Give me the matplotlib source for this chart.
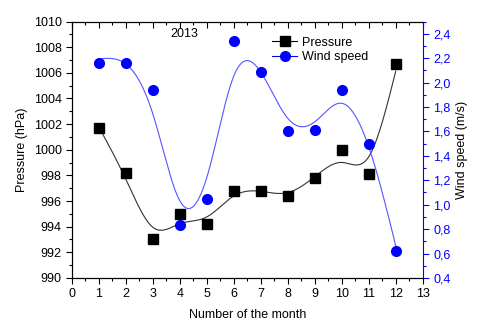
"""Monthly pressure and wind speed for 2013, with smoothed trend curves."""

import matplotlib
matplotlib.use("Agg")
import matplotlib.pyplot as plt
import numpy as np
from matplotlib.ticker import MultipleLocator, FuncFormatter

plt.rcParams["font.family"] = ["Liberation Sans", "DejaVu Sans"]
plt.rcParams["font.size"] = 9

months = [1, 2, 3, 4, 5, 6, 7, 8, 9, 10, 11, 12]
pressure = [1001.7, 998.2, 993.0, 995.0, 994.2, 996.8, 996.8, 996.4, 997.8, 1000.0, 998.1, 1006.7]
wind_speed = [2.16, 2.16, 1.94, 0.83, 1.05, 2.34, 2.09, 1.60, 1.61, 1.94, 1.50, 0.62]

BLUE = "#0000ff"
CURVE_BLUE = "#5555ff"


def smooth_curve(x, y, lam, step=0.02):
    # Whittaker smoother on a fine grid: data nodes weighted, second-difference penalty
    grid = np.arange(min(x), max(x) + step / 2, step)
    n = len(grid)
    w = np.zeros(n)
    z = np.zeros(n)
    for xi, yi in zip(x, y):
        k = int(round((xi - grid[0]) / step))
        w[k] = 1.0
        z[k] = yi
    d = np.diff(np.eye(n), 2, axis=0)
    f = np.linalg.solve(np.diag(w) + lam * d.T @ d, w * z)
    return grid, f


fig = plt.figure(figsize=(4.8, 3.27), dpi=100)
ax = fig.add_axes([0.15, 0.15, 0.7306, 0.784])
ax2 = ax.twinx()

xs, ps = smooth_curve(months, pressure, 7.0e3)
ax.plot(xs, ps, color="#333333", lw=0.8)
ln1, = ax.plot(months, pressure, "s", color="black", ms=6.5, label="Pressure")

xw, ws = smooth_curve(months, wind_speed, 1.1e4)
ax2.plot(xw, ws, color=CURVE_BLUE, lw=0.8)
ln2, = ax2.plot(months, wind_speed, "o", color=BLUE, ms=7, label="Wind speed")

ax.set_xlim(0, 13)
ax.set_ylim(990, 1010)
ax2.set_ylim(0.4, 2.5)

ax.xaxis.set_major_locator(MultipleLocator(1))
ax.xaxis.set_minor_locator(MultipleLocator(0.5))
ax.yaxis.set_major_locator(MultipleLocator(2))
ax.yaxis.set_minor_locator(MultipleLocator(1))
ax2.yaxis.set_major_locator(MultipleLocator(0.2))
ax2.yaxis.set_minor_locator(MultipleLocator(0.1))
ax2.yaxis.set_major_formatter(FuncFormatter(lambda v, _: f"{v:.1f}".replace(".", ",")))

ax.tick_params(axis="x", which="both", direction="out", top=True)
ax.tick_params(axis="y", which="both", direction="out")
ax.tick_params(which="major", length=4, width=0.8)
ax.tick_params(which="minor", length=2, width=0.8)
ax2.tick_params(axis="y", which="both", direction="out", colors=BLUE, width=0.8)
ax2.tick_params(axis="y", which="major", length=4)
ax2.tick_params(axis="y", which="minor", length=2)

# top ticks point into the frame, bottom ones point out
for t in ax.xaxis.get_major_ticks() + ax.xaxis.get_minor_ticks():
    t.tick2line.set_marker(3)

ax2.spines["right"].set_color(BLUE)
ax.spines["right"].set_visible(False)
for side in ["left", "bottom", "top"]:
    ax.spines[side].set_linewidth(0.8)
ax2.spines["right"].set_linewidth(0.8)

ax.set_xlabel("Number of the month", labelpad=6)
ax.set_ylabel("Pressure (hPa)")
ax2.set_ylabel("Wind speed (m/s)")

ax.text(4.15, 1009.0, "2013", ha="center", va="center")

leg = ax2.legend(handles=[ln1, ln2], loc="upper left", bbox_to_anchor=(0.55, 0.97),
                 frameon=False, handlelength=2.0, handletextpad=0.4, borderaxespad=0.2,
                 labelspacing=0.2, fontsize=9)
for h, c in zip(leg.legend_handles, ["black", BLUE]):
    h.set_linestyle("-")
    h.set_linewidth(0.8)
    h.set_color(c)

fig.savefig("out.png", dpi=100)
